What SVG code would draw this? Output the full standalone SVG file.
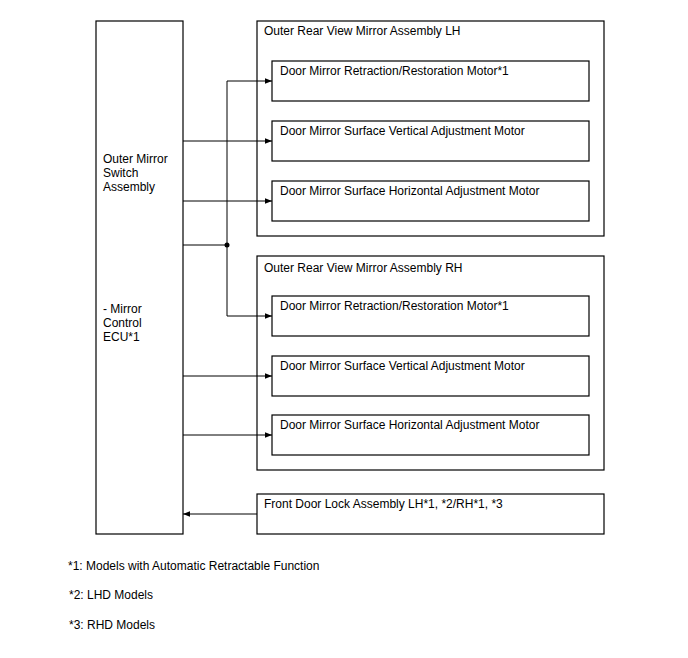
<svg xmlns="http://www.w3.org/2000/svg" width="688" height="658" viewBox="0 0 688 658">
<defs>
<marker id="ah" viewBox="0 0 10 10" refX="10" refY="5" markerWidth="10" markerHeight="7" markerUnits="userSpaceOnUse" orient="auto">
<path d="M0,1 L10,5 L0,9 Z" fill="#000"/>
</marker>
<style>
text{font-family:"Liberation Sans",Arial,sans-serif;font-size:12px;fill:#000}
rect.b{fill:#fff;stroke:#000;stroke-width:1.2}
.c{fill:none;stroke:#000;stroke-width:1}
</style>
</defs>
<rect width="688" height="658" style="fill:#fff;stroke:none"/>
<g id="ecu">
<rect class="b" x="96" y="21" width="87" height="513"/>
<text x="103" y="163">Outer Mirror</text>
<text x="103" y="177">Switch</text>
<text x="103" y="191">Assembly</text>
<text x="103" y="313">- Mirror</text>
<text x="103" y="327">Control</text>
<text x="103" y="341">ECU*1</text>
</g>
<g id="mirror-lh">
<rect class="b" x="257" y="21" width="347" height="215"/>
<text x="264" y="35">Outer Rear View Mirror Assembly LH</text>
</g>
<g id="lh-retract">
<rect class="b" x="272" y="61" width="317" height="40"/>
<text x="280" y="75">Door Mirror Retraction/Restoration Motor*1</text>
</g>
<g id="lh-vertical">
<rect class="b" x="272" y="121" width="317" height="40"/>
<text x="280" y="135">Door Mirror Surface Vertical Adjustment Motor</text>
</g>
<g id="lh-horizontal">
<rect class="b" x="272" y="181" width="317" height="40"/>
<text x="280" y="195">Door Mirror Surface Horizontal Adjustment Motor</text>
</g>
<g id="mirror-rh">
<rect class="b" x="257" y="256" width="347" height="214"/>
<text x="264" y="272">Outer Rear View Mirror Assembly RH</text>
</g>
<g id="rh-retract">
<rect class="b" x="272" y="296" width="317" height="40"/>
<text x="280" y="310">Door Mirror Retraction/Restoration Motor*1</text>
</g>
<g id="rh-vertical">
<rect class="b" x="272" y="356" width="317" height="40"/>
<text x="280" y="370">Door Mirror Surface Vertical Adjustment Motor</text>
</g>
<g id="rh-horizontal">
<rect class="b" x="272" y="415" width="317" height="40"/>
<text x="280" y="429">Door Mirror Surface Horizontal Adjustment Motor</text>
</g>
<g id="door-lock">
<rect class="b" x="257" y="494" width="347" height="40"/>
<text x="264" y="508">Front Door Lock Assembly LH*1, *2/RH*1, *3</text>
</g>
<g id="connectors">
<path class="c" d="M183,245 H227"/>
<path class="c" d="M227,316 V81 H272" marker-end="url(#ah)"/>
<path class="c" d="M227,316 H272" marker-end="url(#ah)"/>
<path class="c" d="M183,141 H272" marker-end="url(#ah)"/>
<path class="c" d="M183,201 H272" marker-end="url(#ah)"/>
<path class="c" d="M183,376 H272" marker-end="url(#ah)"/>
<path class="c" d="M183,435 H272" marker-end="url(#ah)"/>
<path class="c" d="M257,514 H183" marker-end="url(#ah)"/>
<circle cx="227" cy="245" r="2.5" fill="#000"/>
</g>
<g id="notes">
<text x="68" y="570">*1: Models with Automatic Retractable Function</text>
<text x="69" y="599">*2: LHD Models</text>
<text x="69" y="629">*3: RHD Models</text>
</g>
</svg>
